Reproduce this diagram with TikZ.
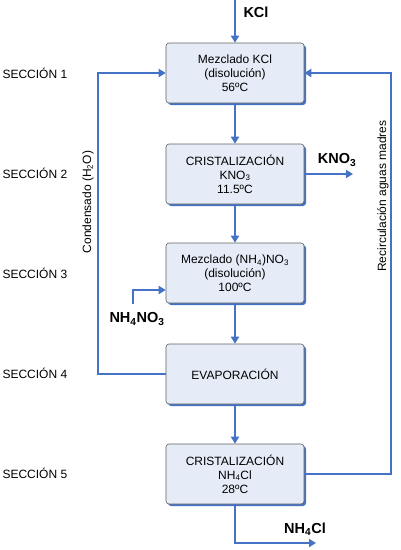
\documentclass[tikz,border=0pt]{standalone}
\usepackage{fontspec}
\setmainfont{Liberation Sans}
\usetikzlibrary{arrows.meta,shadows,positioning}

\definecolor{flowblue}{HTML}{4472C4}
\definecolor{boxfill}{HTML}{E6ECF7}
\definecolor{boxline}{HTML}{5F5F5F}

\tikzset{
  proc/.style={draw=boxline, line width=.6pt, fill=boxfill, rounded corners=3pt,
    minimum width=138pt, minimum height=60pt, align=center, inner sep=2pt,
    font=\fontsize{12}{14}\selectfont,
    drop shadow={shadow xshift=2pt, shadow yshift=-2pt, fill=flowblue, opacity=1}},
  flow/.style={draw=flowblue, line width=2pt, -{Triangle[width=8pt,length=7pt]}},
  stream/.style={font=\fontsize{14.5}{16}\selectfont\bfseries},
  side/.style={font=\fontsize{12}{13}\selectfont, rotate=90},
  section/.style={font=\fontsize{12}{13}\selectfont, anchor=west}
}

\begin{document}
\begin{tikzpicture}[x=1pt,y=-1pt]
\useasboundingbox (0,0) rectangle (400,550);
% Process boxes
\node[proc] (mix1) at (235,73) {Mezclado KCl\\(disolución)\\56ºC};
\node[proc] (cry1) at (235,174) {CRISTALIZACIÓN\\KNO\textsubscript{3}\\11.5ºC};
\node[proc] (mix2) at (235,273) {Mezclado (NH\textsubscript{4})NO\textsubscript{3}\\(disolución)\\100ºC};
\node[proc] (evap) at (235,374) {EVAPORACIÓN};
\node[proc] (cry2) at (235,474) {CRISTALIZACIÓN\\NH\textsubscript{4}Cl\\28ºC};
% Section labels
\foreach \i in {1,...,5}
  \node[section] (sec\i) at (-1,{73+100*(\i-1)}) {SECCIÓN \i};
% Free ends
\coordinate (kclin) at (235,0);
\coordinate (knoout) at (353,174);
\coordinate (nhnoin) at (133,304);
\coordinate (nhclout) at (316,543);
\coordinate (condtop) at (98,73);
\coordinate (rectop) at (391,73);
% Main line
\draw[flow] (kclin) -- (mix1);
\draw[flow] (mix1) -- (cry1);
\draw[flow] (cry1) -- (mix2);
\draw[flow] (mix2) -- (evap);
\draw[flow] (evap) -- (cry2);
\draw[flow] (cry1.east) -- (knoout);
\draw[flow] (nhnoin) |- ([yshift=-17pt]mix2.west);
\draw[flow] (cry2.south) |- (nhclout);
% Recycle loops
\draw[flow] (evap.west) -| (condtop) -- (mix1.west);
\draw[flow] (cry2.east) -| (rectop) -- (mix1.east);
% Stream labels
\node[stream] (kcl) at (256,12) {KCl};
\node[stream] (kno) at (337,160) {KNO\textsubscript{3}};
\node[stream] (nhno) at (137,319) {NH\textsubscript{4}NO\textsubscript{3}};
\node[stream] (nhcl) at (305,529) {NH\textsubscript{4}Cl};
\node[side] (cond) at (88,202) {Condensado (H\textsubscript{2}O)};
\node[side] (rec) at (383,196) {Recirculación aguas madres};
\end{tikzpicture}
\end{document}
